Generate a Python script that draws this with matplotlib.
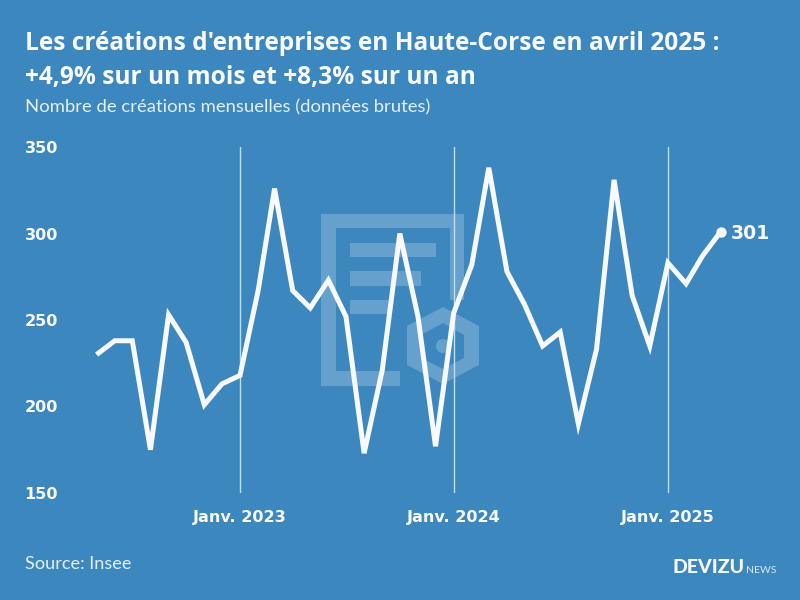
import matplotlib
matplotlib.use("Agg")
import matplotlib.pyplot as plt
import pandas as pd
from matplotlib.patches import Polygon, Rectangle, Circle

months = pd.date_range("2022-05-01", "2025-04-01", freq="MS")
values = [230, 238, 238, 175, 253, 237, 201, 213, 218, 267, 326, 267,
          257, 273, 252, 173, 221, 300, 252, 177, 254, 282, 338, 278,
          259, 235, 243, 190, 233, 331, 264, 235, 283, 271, 287, 301]
year_ticks = pd.to_datetime(["2023-01-01", "2024-01-01", "2025-01-01"])
year_labels = ["Janv. 2023", "Janv. 2024", "Janv. 2025"]
y_ticks = [150, 200, 250, 300, 350]
title_lines = ["Les créations d'entreprises en Haute-Corse en avril 2025 :",
               "+4,9% sur un mois et +8,3% sur un an"]
subtitle = "Nombre de créations mensuelles (données brutes)"
source = "Source: Insee"

BG = "#3C87BE"
FG = "#F8F9FF"
MARK = "#66A1CE"

W, H = 800, 600
fig = plt.figure(figsize=(8, 6), dpi=100, facecolor=BG)

bg = fig.add_axes([0, 0, 1, 1], zorder=0)
bg.set_xlim(0, W); bg.set_ylim(H, 0); bg.axis("off")
page = [(321, 214), (464, 214), (464, 300), (450, 300), (450, 228), (336, 228),
        (336, 371), (400, 371), (400, 386), (321, 386)]
bg.add_patch(Polygon(page, closed=True, fc=MARK, ec="none"))
for x0, x1, y0, y1 in [(350, 436, 243, 257), (350, 421, 271, 286), (350, 392, 300, 314)]:
    bg.add_patch(Rectangle((x0, y0), x1 - x0, y1 - y0, fc=MARK, ec="none"))
hex_outer = [(443, 307), (479, 326), (479, 365), (443, 384), (407, 365), (407, 326)]
hex_inner = [(443, 323), (464, 335), (464, 358), (443, 369), (421, 358), (421, 335)]
bg.add_patch(Polygon(hex_outer, closed=True, fc=MARK, ec="none"))
bg.add_patch(Polygon(hex_inner, closed=True, fc=BG, ec="none"))
bg.add_patch(Circle((443, 346), 7, fc=MARK, ec="none"))

ax = fig.add_axes([96.6 / W, 1 - 493 / H, (720.6 - 96.6) / W, (493 - 147) / H], zorder=1)
ax.patch.set_alpha(0)
ax.set_xlim(months[0], months[-1])
ax.set_ylim(150, 350)
for s in ax.spines.values():
    s.set_visible(False)
for xv in year_ticks:
    ax.axvline(xv, color="#C6DAEA", lw=1.0, zorder=1)
ax.plot(months, values, color=FG, lw=3.6, solid_joinstyle="miter", solid_capstyle="butt",
        clip_on=False, zorder=3)
ax.plot(months[-1], values[-1], "o", color=FG, ms=7.5, mew=0, clip_on=False, zorder=4)
ax.annotate(str(values[-1]), (months[-1], values[-1]), xytext=(7.5, 0), textcoords="offset points",
            color=FG, fontsize=13.6, fontweight="bold", family="DejaVu Sans",
            va="center_baseline", ha="left")

ax.set_yticks(y_ticks)
ax.set_yticklabels([str(v) for v in y_ticks], ha="left")
ax.set_xticks(year_ticks)
ax.set_xticklabels(year_labels)
ax.tick_params(axis="y", length=0, pad=51.8, labelcolor=FG, labelsize=11.6)
ax.tick_params(axis="x", length=0, pad=12, labelcolor=FG, labelsize=11.6)
for t in ax.get_xticklabels() + ax.get_yticklabels():
    t.set_fontweight("bold")
    t.set_family("DejaVu Sans")

fig.text(25 / W, 1 - 50 / H, title_lines[0], color=FG, fontsize=17.65, fontweight="bold",
         family="Open Sans", ha="left", va="baseline")
fig.text(25 / W, 1 - 84 / H, title_lines[1], color=FG, fontsize=17.65, fontweight="bold",
         family="Open Sans", ha="left", va="baseline")
fig.text(25 / W, 1 - 112 / H, subtitle, color="#E6EEF6", fontsize=13.3,
         family="Lato", ha="left", va="baseline")
fig.text(25 / W, 1 - 569 / H, source, color="#E6EEF6", fontsize=13.1,
         family="Lato", ha="left", va="baseline")
fig.text(673 / W, 1 - 573 / H, "DEVIZU", color=FG, fontsize=14, fontweight="black", family="Lato",
         ha="left", va="baseline")
fig.text(746 / W, 1 - 573 / H, "NEWS", color="#DCE8F2", fontsize=7.5, family="Lato",
         ha="left", va="baseline")

fig.savefig("out.png", dpi=100, facecolor=BG)
